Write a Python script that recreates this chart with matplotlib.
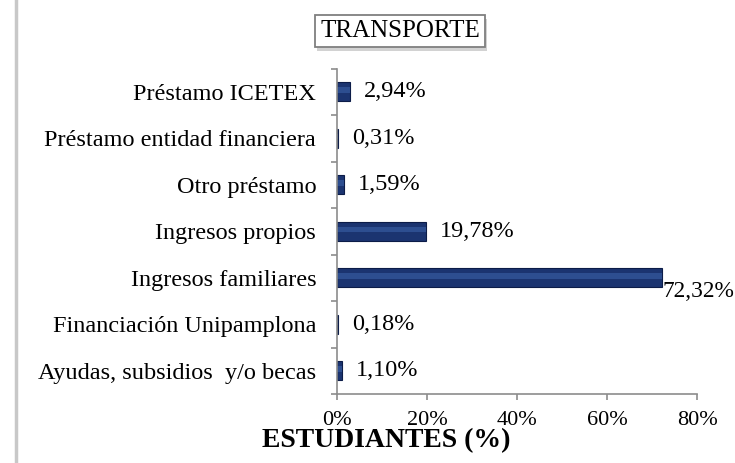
import matplotlib
matplotlib.use("Agg")
import matplotlib.pyplot as plt
import matplotlib.patheffects as pe
from matplotlib.lines import Line2D
import numpy as np

plt.rcParams["font.family"] = ["Liberation Serif", "DejaVu Serif"]

# datos (de abajo hacia arriba)
categorias = ["Ayudas, subsidios  y/o becas", "Financiación Unipamplona",
              "Ingresos familiares", "Ingresos propios", "Otro préstamo",
              "Préstamo entidad financiera", "Préstamo ICETEX"]
valores = [1.10, 0.18, 72.32, 19.78, 1.59, 0.31, 2.94]
etiquetas = ["1,10%", "0,18%", "72,32%", "19,78%", "1,59%", "0,31%", "2,94%"]

fig = plt.figure(figsize=(7.35, 4.63), dpi=100)
ax = fig.add_axes([0.4585, 0.149, 0.4898, 0.703])

y = np.arange(len(categorias))
alto = 0.4
ax.barh(y, valores, height=alto, color="#1b3470", edgecolor="#0c1c48", linewidth=0.8)
# brillo del bisel
ax.barh(y + alto * 0.1, valores, height=alto * 0.3, color="#365a9e", linewidth=0, alpha=0.7)

for yi, v, t in zip(y, valores, etiquetas):
    if v > 50:
        ax.annotate(t, xy=(v, yi), xytext=(0, -10), textcoords="offset points",
                    ha="left", va="center", fontsize=16.8)
    else:
        ax.annotate(t, xy=(v, yi), xytext=(10, 0), textcoords="offset points",
                    ha="left", va="center", fontsize=17.5)

ax.set_xlim(0, 80)
ax.set_ylim(-0.5, len(categorias) - 0.5)
ax.set_xticks([0, 20, 40, 60, 80])
ax.set_xticklabels(["0%", "20%", "40%", "60%", "80%"])
ax.set_yticks(y)
ax.set_yticklabels(categorias)
ax.set_yticks(np.arange(-0.5, len(categorias), 1), minor=True)

for s in ["top", "right"]:
    ax.spines[s].set_visible(False)
for s in ["left", "bottom"]:
    ax.spines[s].set_color("#8c8c8c")
    ax.spines[s].set_linewidth(1.2)

ax.tick_params(axis="x", length=4.5, width=1.2, color="#8c8c8c", pad=8, labelsize=16)
ax.tick_params(axis="y", which="major", length=0, pad=15, labelsize=17.5)
ax.tick_params(axis="y", which="minor", length=4.5, width=1.2, color="#8c8c8c")

fig.text(386 / 735, 1 - 441 / 463, "ESTUDIANTES (%)", ha="center", va="center",
         fontsize=20, fontweight="bold")

# titulo en recuadro con sombra
titulo = fig.text(400 / 735, 1 - 31 / 463, "TRANSPORTE", ha="center", va="center", fontsize=18,
                  bbox=dict(boxstyle="square,pad=0.2", facecolor="white", edgecolor="#7f7f7f",
                            linewidth=1.3))
titulo.get_bbox_patch().set_path_effects([pe.SimplePatchShadow(offset=(1.5, -3), alpha=0.25),
                                          pe.Normal()])

# linea gris del borde izquierdo
fig.add_artist(Line2D([16 / 735, 16 / 735], [0, 1], color="#c8c8c8", linewidth=2.5,
                      transform=fig.transFigure))

fig.savefig("out.png", dpi=100)
